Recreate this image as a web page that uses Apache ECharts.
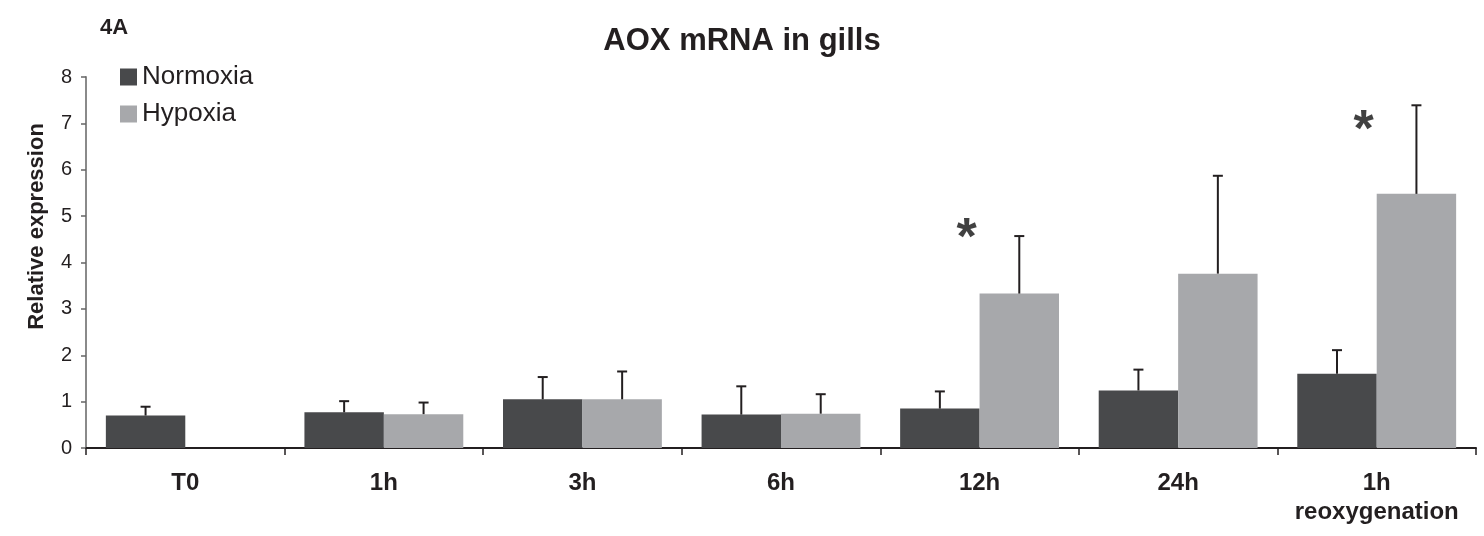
<!DOCTYPE html>
<html>
<head>
<meta charset="utf-8">
<script src="https://cdn.jsdelivr.net/npm/echarts@6/dist/echarts.min.js"></script>
<style>
html,body{margin:0;padding:0;background:#fff;}
#chart{width:1484px;height:536px;}
</style>
</head>
<body>
<div id="chart"></div>
<script>
// ---- data ----
var categories = ['T0', '1h', '3h', '6h', '12h', '24h', '1h\nreoxygenation'];
var normoxia = [0.70, 0.77, 1.05, 0.72, 0.85, 1.24, 1.60];
var normoxiaErrTop = [0.89, 1.01, 1.53, 1.33, 1.22, 1.69, 2.11];
var hypoxia = [null, 0.73, 1.05, 0.74, 3.33, 3.76, 5.48];
var hypoxiaErrTop = [null, 0.98, 1.65, 1.16, 4.57, 5.87, 7.39];
var starValues = [null, null, null, null, 4.76, null, 7.07];
var yTicks = [0, 1, 2, 3, 4, 5, 6, 7, 8];

var DARK = '#48494b', LIGHT = '#a7a8ab', INK = '#231f20';
var FONT = '"Liberation Sans", Arial, Helvetica, sans-serif';

function errData(vals, tops) {
  return vals.map(function (v, i) {
    return (v == null || tops[i] == null) ? [i, null, null] : [i, v, tops[i]];
  });
}

function makeErrRender(side) {
  return function (params, api) {
    var v = api.value(1), t = api.value(2);
    if (v == null || isNaN(v) || t == null || isNaN(t)) return;
    var idx = api.value(0);
    var base = api.coord([idx, v]);
    var top = api.coord([idx, t]);
    var band = api.size([1, 0])[0];
    var barW = band * 0.8 / 2;
    var x = base[0] + side * barW / 2;
    var cap = 5;
    var style = { stroke: INK, lineWidth: 2 };
    return {
      type: 'group',
      children: [
        { type: 'line', shape: { x1: x, y1: base[1], x2: x, y2: top[1] }, style: style },
        { type: 'line', shape: { x1: x - cap, y1: top[1], x2: x + cap, y2: top[1] }, style: style }
      ]
    };
  };
}

var chart = echarts.init(document.getElementById('chart'), null, { renderer: 'canvas' });
chart.setOption({
  animation: false,
  backgroundColor: '#fff',
  textStyle: { fontFamily: FONT },
  title: [
    { text: 'AOX mRNA in gills', left: 'center', top: 26, padding: 0,
      textStyle: { fontSize: 31, fontWeight: 'bold', color: INK, fontFamily: FONT } },
    { text: '4A', left: 100, top: 17, padding: 0,
      textStyle: { fontSize: 22, fontWeight: 'bold', color: INK, fontFamily: FONT } }
  ],
  legend: {
    orient: 'vertical', left: 120, top: 64, padding: 0,
    itemWidth: 17, itemHeight: 17, itemGap: 11,
    icon: 'rect',
    textStyle: { fontSize: 26, color: INK, fontFamily: FONT, padding: [0, 0, 0, 0] },
    data: ['Normoxia', 'Hypoxia']
  },
  grid: { left: 86, right: 8, top: 77, bottom: 88, containLabel: false },
  xAxis: {
    type: 'category',
    data: categories,
    axisLine: { lineStyle: { color: INK, width: 2 } },
    axisTick: { show: true, length: 7, lineStyle: { color: INK, width: 1.5 } },
    axisLabel: { fontSize: 24, fontWeight: 'bold', color: INK, margin: 21, lineHeight: 29, fontFamily: FONT, interval: 0 }
  },
  yAxis: {
    type: 'value',
    min: yTicks[0], max: yTicks[yTicks.length - 1], interval: 1,
    name: 'Relative expression',
    nameLocation: 'middle',
    nameGap: 38,
    nameTextStyle: { fontSize: 22, fontWeight: 'bold', color: INK, fontFamily: FONT, padding: [0, 0, 0, 72] },
    axisLine: { show: true, lineStyle: { color: '#8a8a8a', width: 2 } },
    axisTick: { show: true, inside: false, length: 5, lineStyle: { color: '#666', width: 1.5 } },
    axisLabel: { fontSize: 20, color: INK, margin: 14, fontFamily: FONT },
    splitLine: { show: false }
  },
  series: [
    { name: 'Normoxia', type: 'bar', data: normoxia, barGap: '0%', barCategoryGap: '20%',
      itemStyle: { color: DARK }, z: 2 },
    { name: 'Hypoxia', type: 'bar', data: hypoxia, barGap: '0%', barCategoryGap: '20%',
      itemStyle: { color: LIGHT }, z: 2 },
    { name: 'errN', type: 'custom', renderItem: makeErrRender(-1),
      data: errData(normoxia, normoxiaErrTop), encode: { x: 0, y: [1, 2] }, z: 3, silent: true },
    { name: 'errH', type: 'custom', renderItem: makeErrRender(1),
      data: errData(hypoxia, hypoxiaErrTop), encode: { x: 0, y: [1, 2] }, z: 3, silent: true },
    { name: 'stars', type: 'scatter', data: starValues, symbolSize: 0, silent: true, z: 4,
      label: { show: true, formatter: '*', position: 'inside', offset: [-13, 12],
        fontSize: 52, fontWeight: 'bold', color: '#111', fontFamily: FONT } }
  ]
});
</script>
</body>
</html>
